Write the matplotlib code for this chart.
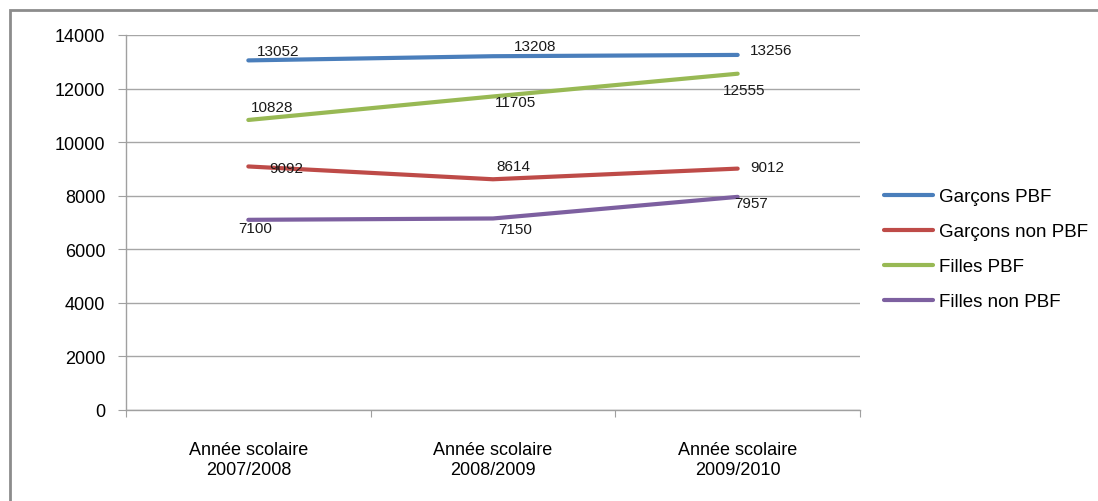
import matplotlib.pyplot as plt
from matplotlib.patches import Rectangle

plt.rcParams['font.family'] = ['Liberation Sans', 'DejaVu Sans']

categories = ['Année scolaire\n2007/2008', 'Année scolaire\n2008/2009', 'Année scolaire\n2009/2010']
series_names = ['Garçons PBF', 'Garçons non PBF', 'Filles PBF', 'Filles non PBF']
garcons_pbf = [13052, 13208, 13256]
garcons_non_pbf = [9092, 8614, 9012]
filles_pbf = [10828, 11705, 12555]
filles_non_pbf = [7100, 7150, 7957]
y_ticks = [0, 2000, 4000, 6000, 8000, 10000, 12000, 14000]

colors = ['#4A7EBB', '#BE4B48', '#98B954', '#7D60A0']
# label offsets in pixels, per series, per point (hand placed like the original)
label_offsets = [
    [(30, 9), (42, 10), (33, 5)],
    [(38, -2), (20, 13), (30, 2)],
    [(24, 13), (22, -6), (6, -16)],
    [(7, -8), (22, -11), (13, -6)],
]

fig = plt.figure(figsize=(10.98, 5.02), dpi=100)
ax = fig.add_axes([126 / 1098, 91 / 502, 734 / 1098, 375 / 502])

x = [0.5, 1.5, 2.5]
all_series = [garcons_pbf, garcons_non_pbf, filles_pbf, filles_non_pbf]
for vals, name, col, offs in zip(all_series, series_names, colors, label_offsets):
    ax.plot(x, vals, color=col, lw=3, label=name, solid_capstyle='round')
    for xi, v, (dx, dy) in zip(x, vals, offs):
        ax.annotate(str(v), (xi, v), xytext=(dx, dy), textcoords='offset pixels',
                    ha='center', va='center', fontsize=11, color='#1a1a1a')

ax.set_xlim(0, 3)
ax.set_ylim(0, 14000)
ax.set_yticks(y_ticks)
ax.set_yticklabels([str(t) for t in y_ticks], fontsize=13)
ax.set_xticks([0, 1, 2, 3])
ax.set_xticklabels([])
ax.set_xticks(x, minor=True)
ax.set_xticklabels(categories, minor=True, fontsize=13, linespacing=1.3)
ax.tick_params(axis='x', which='minor', length=0, pad=22)
ax.tick_params(axis='x', which='major', length=5, color='#A0A0A0')
ax.tick_params(axis='y', length=5.8, color='#A0A0A0', pad=9)

ax.grid(axis='y', color='#A6A6A6', lw=1)
ax.set_axisbelow(True)
for side in ['top', 'right']:
    ax.spines[side].set_visible(False)
for side in ['left', 'bottom']:
    ax.spines[side].set_color('#A0A0A0')
    ax.spines[side].set_linewidth(1)

ax.legend(loc='upper left', bbox_to_anchor=(875 / 1098, 1 - 180 / 502),
          bbox_transform=fig.transFigure, frameon=False, fontsize=13.5,
          handlelength=2.6, handletextpad=0.3, labelspacing=0.95, borderpad=0)

# grey frame, cut off at right and bottom like the screenshot
fig.add_artist(Rectangle((10 / 1098, -0.5), 2, 0.5 + 491 / 502, transform=fig.transFigure,
                         fill=False, edgecolor='#8C8C8C', lw=2))

fig.savefig('out.png', dpi=100)
